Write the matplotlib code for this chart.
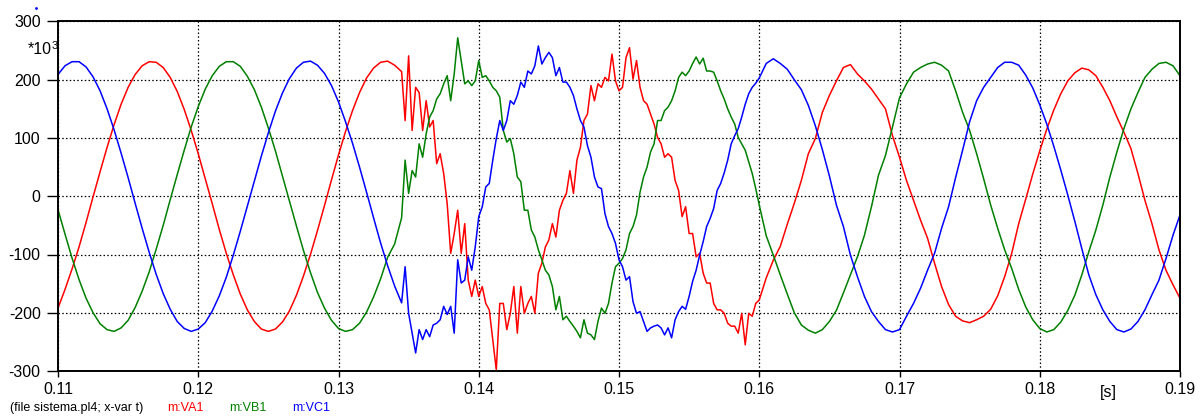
import numpy as np
import matplotlib
matplotlib.use("Agg")
import matplotlib.pyplot as plt
from matplotlib.lines import Line2D

plt.rcParams['font.family'] = ['Liberation Sans', 'DejaVu Sans']
plt.rcParams['axes.unicode_minus'] = False

# -----------------------
# DATA (kV, *10^3)
# three stretches: before the fault (0.5 ms step), the noisy part
# right after it (0.25 ms step) and the settled part (0.5 ms step)
# -----------------------
t0_pre, dt_pre = 0.110, 0.0005
t0_fault, dt_fault = 0.13475, 0.00025
t0_post, dt_post = 0.1605, 0.0005

va_pre = [-192, -160, -125, -87, -45, -1, 42, 84, 123, 158,
          187, 209, 224, 231, 230, 221, 204, 180, 149, 113,
          73, 30, -13, -57, -98, -135, -168, -195, -215, -228,
          -232, -228, -216, -197, -170, -137, -100, -59, -16, 28,
          71, 111, 147, 178, 203, 220, 230, 232, 225, 214]
vb_pre = [-23, -65, -106, -143, -175, -200, -219, -229, -232, -226,
          -213, -191, -163, -130, -91, -50, -6, 37, 79, 119,
          154, 184, 207, 223, 231, 231, 223, 206, 183, 153,
          117, 78, 35, -8, -51, -93, -131, -165, -192, -213,
          -227, -232, -229, -218, -199, -173, -142, -105, -82, -37]
vc_pre = [209, 224, 231, 231, 222, 205, 181, 150, 114, 74,
          32, -12, -55, -96, -134, -167, -194, -215, -227, -232,
          -228, -217, -197, -171, -139, -101, -60, -17, 26, 69,
          109, 146, 177, 202, 220, 230, 232, 225, 211, 190,
          162, 128, 91, 50, 7, -37, -80, -119, -154, -183]

va_fault = [130, 241, 113, 187, 178, 113, 164, 119, 130, 56,
            73, 39, -13, -98, -64, -24, -98, -47, -144, -172,
            -144, -172, -155, -184, -195, -246, -298, -184, -184, -229,
            -201, -155, -235, -155, -201, -184, -172, -201, -132, -115,
            -87, -75, -47, -70, -24, -7, 5, 44, 5, 62,
            84, 130, 141, 190, 164, 193, 187, 204, 198, 244,
            198, 181, 187, 238, 255, 201, 233, 187, 164, 158,
            141, 124, 101, 90, 67, 73, 67, 27, 10, -35,
            -18, -64, -64, -104, -98, -132, -149, -149, -184, -195,
            -195, -201, -218, -223, -223, -235, -201, -255, -201, -206,
            -184, -178]
vb_fault = [62, 5, 44, 33, 90, 67, 107, 136, 147, 167,
            176, 193, 207, 164, 210, 272, 233, 193, 198, 190,
            198, 233, 204, 207, 198, 187, 181, 170, 113, 93,
            99, 73, 33, 25, -24, -24, -58, -70, -92, -109,
            -127, -135, -155, -195, -172, -212, -206, -215, -223, -232,
            -243, -212, -235, -238, -246, -215, -192, -201, -184, -149,
            -121, -115, -107, -92, -64, -52, -32, 7, 33, 50,
            76, 90, 130, 130, 147, 153, 164, 181, 204, 213,
            207, 215, 228, 239, 227, 237, 215, 215, 213, 198,
            181, 167, 150, 136, 124, 101, 90, 79, 59, 39,
            13, -15]
vc_fault = [-121, -201, -235, -269, -229, -246, -229, -241, -221, -218,
            -212, -189, -203, -189, -235, -109, -149, -144, -104, -127,
            -87, -35, -18, 16, 22, 62, 99, 130, 113, 130,
            164, 158, 173, 196, 187, 215, 210, 224, 258, 227,
            238, 247, 238, 207, 221, 196, 196, 187, 173, 150,
            130, 119, 87, 67, 33, 16, 13, -30, -52, -64,
            -81, -109, -121, -144, -138, -181, -201, -198, -215, -232,
            -226, -223, -221, -226, -238, -226, -243, -212, -198, -189,
            -194, -172, -146, -127, -101, -78, -52, -38, -21, 10,
            22, 40, 62, 90, 104, 116, 136, 158, 176, 187,
            194, 203]

va_post = [-140, -110, -86, -48, -12, 27, 73, 99, 144, 173,
           198, 221, 226, 210, 198, 184, 167, 150, 104, 67,
           27, -7, -41, -72, -115, -155, -186, -206, -214, -217,
           -212, -206, -194, -171, -138, -98, -47, -5, 38, 78,
           115, 148, 176, 198, 212, 220, 217, 207, 187, 164,
           136, 110, 82, 39, -7, -47, -92, -127, -152, -175]
vb_post = [-68, -101, -135, -168, -200, -221, -230, -235, -229, -215,
           -196, -166, -135, -104, -67, -18, 36, 70, 119, 169,
           193, 213, 221, 227, 230, 225, 215, 181, 144, 113,
           73, 30, -15, -55, -92, -124, -160, -190, -212, -227,
           -233, -229, -216, -196, -170, -135, -95, -58, -15, 33,
           76, 116, 150, 178, 204, 218, 228, 230, 224, 207]
vc_post = [228, 236, 228, 218, 200, 183, 156, 121, 80, 35,
           -15, -52, -101, -138, -172, -198, -215, -229, -233, -229,
           -206, -184, -158, -127, -98, -55, -18, 32, 79, 128,
           164, 187, 204, 221, 230, 230, 225, 208, 186, 157,
           124, 86, 45, 2, -43, -90, -135, -169, -195, -215,
           -229, -233, -228, -215, -195, -169, -144, -107, -67, -32]

series = [("m:VA1", "#ff0000", va_pre, va_fault, va_post),
          ("m:VB1", "#008000", vb_pre, vb_fault, vb_post),
          ("m:VC1", "#0000ff", vc_pre, vc_fault, vc_post)]

# -----------------------
# PLOT
# -----------------------
fig = plt.figure(figsize=(12.03, 4.2), dpi=100)
ax = fig.add_axes([58 / 1203, 49 / 420, 1122 / 1203, 349.5 / 420])

for name, col, pre, mid, post in series:
    t = np.concatenate([t0_pre + dt_pre * np.arange(len(pre)),
                        t0_fault + dt_fault * np.arange(len(mid)),
                        t0_post + dt_post * np.arange(len(post))])
    v = np.concatenate([pre, mid, post])
    ax.plot(t, v, color=col, linewidth=1.1)

ax.set_xlim(0.11, 0.19)
ax.set_ylim(-300, 300)
xt = [0.11, 0.12, 0.13, 0.14, 0.15, 0.16, 0.17, 0.18, 0.19]
ax.set_xticks(xt)
ax.set_xticklabels([f"{x:.2f}" for x in xt])
ax.set_yticks([-300, -200, -100, 0, 100, 200, 300])
ax.grid(True, color='black', linestyle=(0, (1.2, 1.8)), linewidth=0.9)

for s in ax.spines.values():
    s.set_linewidth(1.4)
ax.tick_params(axis='y', direction='out', length=8, width=1.0, pad=4.5, labelsize=11.5)
ax.tick_params(axis='x', direction='out', length=4, width=1.0, pad=4, labelsize=11.5)

# scale marker "*10^3" above the y labels
fig.text(52 / 1203, 1 - 50 / 420, "*10", ha='right', va='center', fontsize=11.5)
fig.text(51.5 / 1203, 1 - 46 / 420, "3", ha='left', va='center', fontsize=8)
fig.text(1108 / 1203, 1 - 393 / 420, "[s]", ha='center', va='center', fontsize=11.5)

# footer line like the ATP plot
fig.text(10 / 1203, 1 - 408 / 420, "(file sistema.pl4; x-var t)", ha='left', va='center', fontsize=9)
foot_x = [167, 229, 292]
for (name, col, *_), fx in zip(series, foot_x):
    fig.text(fx / 1203, 1 - 408 / 420, name, ha='left', va='center', fontsize=9, color=col)

fig.add_artist(Line2D([36 / 1203], [1 - 8 / 420], marker='.', markersize=2,
                      color='blue', transform=fig.transFigure))

fig.savefig("out.png", dpi=100)
